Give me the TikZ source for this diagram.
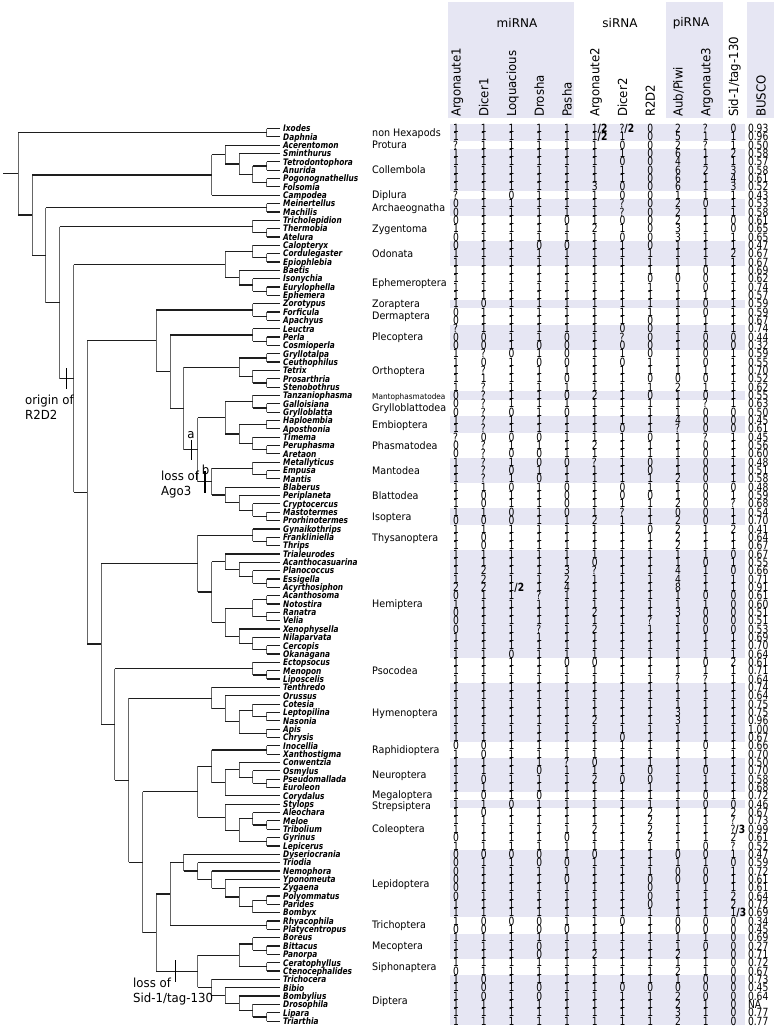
\documentclass[tikz,border=0pt]{standalone}
\usepackage{fontspec}
\usepackage{etoolbox}
\usetikzlibrary{calc}
\newfontfamily\dv{DejaVu Sans}
\newfontfamily\dvc[FakeStretch=0.81]{DejaVu Sans}
\newfontfamily\dvt[FakeStretch=0.82]{DejaVu Sans}
\newfontfamily\dvo[FakeStretch=0.93]{DejaVu Sans}
\newfontfamily\dvh[FakeStretch=0.94]{DejaVu Sans}
\definecolor{band}{RGB}{230,230,243}
\definecolor{tr}{RGB}{30,30,30}
\newcommand\fr[2]{#1\textbf{/#2}}
\newcommand\cl[4]{%
  \path let \p1=(#3), \p2=(#4) in ({280.5pt-13.8pt*#2},{0.5*(\y1+\y2)}) coordinate (#1);
  \draw[vt] (#3 -| #1) -- (#4 -| #1);
  \draw[hz] (#3 -| #1) -- (#3);
  \draw[hz] (#4 -| #1) -- (#4);
}
\newcommand\colbox[1]{\vtop{\baselineskip=8.342pt\lineskiplimit=-100pt\lineskip=0pt #1}}
\begin{document}
\begin{tikzpicture}[x=1pt,y=-1pt,
  hz/.style={draw=tr,line width=1.2pt},
  vt/.style={draw=black!60,line width=1pt},
  tick/.style={draw=black,line width=1.2pt},
  val/.style={font=\dvc\fontsize{11.3}{12}\selectfont,anchor=base west,inner sep=0pt,outer sep=0pt},
  taxon/.style={font=\dvt\bfseries\itshape\fontsize{9}{10}\selectfont,anchor=base west,inner sep=0pt},
  order/.style={font=\dvo\fontsize{10.3}{11}\selectfont,anchor=base west,inner sep=0pt},
  head/.style={font=\dvh\fontsize{12.5}{13}\selectfont,anchor=base west,inner sep=0pt,rotate=90},
  grp/.style={font=\dv\fontsize{12}{13}\selectfont,inner sep=0pt},
  ann/.style={font=\dvh\fontsize{12.5}{13}\selectfont,anchor=base west,inner sep=0pt}]
\useasboundingbox (0,0) rectangle (780,1028);
\fill[white] (0,0) rectangle (780,1028);
% header boxes
\fill[band] (448,2) rectangle (574,118);
\fill[band] (666,2) rectangle (723,118);
\fill[band] (747,2) rectangle (774,118);
\node[grp] (g-mi) at (517,23) {miRNA};
\node[grp] (g-si) at (620,23) {siRNA};
\node[grp] (g-pi) at (691,23) {piRNA};
\foreach \h [count=\k from 0] in {Argonaute1,Dicer1,Loquacious,Drosha,Pasha,Argonaute2,Dicer2,R2D2,Aub/Piwi,Argonaute3,Sid-1/tag-130}{
  \node[head] (h-\k) at ({456+27.75*\k+4.5},117) {\h};
}
\node[head] (h-busco) at (765.5,117) {BUSCO};
% order bands and labels
\foreach \lab/\a/\b/\dy [count=\j] in {non Hexapods/1/2/0,Protura/3/3/0,Collembola/4/8/0,Diplura/9/9/0,Archaeognatha/10/11/0,Zygentoma/12/14/0,Odonata/15/17/0,Ephemeroptera/18/21/0,Zoraptera/22/22/0,Dermaptera/23/24/0,Plecoptera/25/27/0,Orthoptera/28/32/0,{\fontsize{7.9}{8}\selectfont Mantophasmatodea}/33/33/0,Grylloblattodea/34/35/0,Embioptera/36/37/0,Phasmatodea/38/40/0,Mantodea/41/43/0,Blattodea/44/46/0,Isoptera/47/48/0,Thysanoptera/49/51/0,Hemiptera/52/64/0,Psocodea/65/67/0,Hymenoptera/68/74/0,Raphidioptera/75/76/0,Neuroptera/77/80/0,Megaloptera/81/81/-1.6,Strepsiptera/82/82/1.6,Coleoptera/83/87/0,Lepidoptera/88/95/0,Trichoptera/96/97/0,Mecoptera/98/100/0,Siphonaptera/101/102/0,Diptera/103/108/0}{
  \pgfmathsetmacro\ya{128.5+(\a-1)*8.342}
  \pgfmathsetmacro\yb{128.5+(\b-1)*8.342}
  \ifodd\j \fill[band] (450,{\ya-4.17}) rectangle (745,{\yb+4.17}); \fi
  \node[order] (o-\j) at (372,{(\ya+\yb)/2+3.75+\dy}) {\lab};
}
% rows: tips, taxon labels, and collect column contents
\foreach \k in {0,...,10}{\csgdef{colv\k}{}}
\gdef\colbusco{}
\foreach \nm/\vals/\bu [count=\i] in {
Ixodes/{1,1,1,1,1,\fr{1}{2},\fr{?}{2},0,2,?,0}/0.93,
Daphnia/{1,1,1,1,1,\fr{1}{2},1,0,5,1,1}/0.96,
Acerentomon/{?,1,1,1,1,1,0,0,2,?,1}/0.50,
Sminthurus/{1,1,1,1,1,1,1,0,6,1,2}/0.58,
Tetrodontophora/{1,1,1,1,1,1,0,0,4,1,1}/0.57,
Anurida/{1,1,1,1,1,1,1,0,6,2,3}/0.58,
Pogonognathellus/{1,1,1,1,1,1,1,0,6,1,4}/0.61,
Folsomia/{1,1,1,1,1,3,0,0,6,1,3}/0.52,
Campodea/{?,1,0,1,1,1,0,0,1,1,1}/0.43,
Meinertellus/{0,1,1,1,1,1,?,0,2,0,1}/0.53,
Machilis/{0,1,1,1,1,1,?,0,2,1,1}/0.58,
Tricholepidion/{0,1,1,1,0,1,0,0,2,1,0}/0.61,
Thermobia/{1,1,1,1,1,2,1,0,3,1,0}/0.65,
Atelura/{0,1,1,1,1,1,0,0,3,1,1}/0.65,
Calopteryx/{0,1,1,0,0,1,1,0,1,1,1}/0.47,
Cordulegaster/{1,1,1,1,1,1,1,1,1,1,2}/0.67,
Epiophlebia/{1,1,1,1,1,1,1,1,1,1,1}/0.67,
Baetis/{1,1,1,1,1,1,1,1,1,0,1}/0.69,
Isonychia/{1,1,1,1,1,1,1,0,0,0,1}/0.62,
Eurylophella/{1,1,1,1,1,1,1,1,1,0,1}/0.74,
Ephemera/{1,1,1,1,1,1,1,1,1,1,1}/0.57,
Zorotypus/{1,0,1,1,1,1,1,1,1,0,1}/0.59,
Forficula/{0,1,1,1,1,1,1,1,1,0,1}/0.59,
Apachyus/{0,1,1,1,1,1,1,0,1,1,1}/0.67,
Leuctra/{?,1,1,1,1,1,0,0,1,1,1}/0.74,
Perla/{0,0,1,1,0,1,?,0,1,0,0}/0.44,
Cosmioperla/{0,0,1,0,0,1,0,0,1,0,0}/0.32,
Gryllotalpa/{1,?,0,1,0,1,1,0,1,0,1}/0.59,
Ceuthophilus/{1,0,1,0,0,1,0,1,1,0,1}/0.55,
Tetrix/{1,?,1,1,1,1,1,1,1,1,1}/0.70,
Prosarthria/{1,1,1,1,0,1,1,0,0,0,1}/0.52,
Stenobothrus/{1,?,1,1,1,1,1,1,2,1,1}/0.62,
Tanzaniophasma/{0,?,1,1,0,2,1,0,1,0,1}/0.55,
Galloisiana/{0,?,1,1,1,1,1,1,1,?,1}/0.63,
Grylloblatta/{0,?,0,1,0,1,1,1,1,0,0}/0.50,
Haploembia/{1,?,1,1,1,1,1,1,4,0,0}/0.45,
Aposthonia/{1,?,1,1,1,1,0,1,?,0,0}/0.61,
Timema/{?,0,0,0,1,1,1,0,1,?,1}/0.45,
Peruphasma/{0,?,1,1,1,2,1,1,1,0,1}/0.56,
Aretaon/{0,?,0,0,1,1,1,1,1,0,1}/0.60,
Metallyticus/{1,?,1,0,0,?,1,0,1,0,1}/0.48,
Empusa/{1,?,0,1,1,1,1,0,1,0,1}/0.51,
Mantis/{1,?,1,0,1,1,1,1,2,0,1}/0.58,
Blaberus/{1,1,0,1,0,1,0,1,1,0,0}/0.48,
Periplaneta/{1,0,1,1,0,1,0,0,1,0,1}/0.59,
Cryptocercus/{1,0,1,1,0,1,1,1,2,0,?}/0.68,
Mastotermes/{1,1,0,1,0,1,?,1,0,0,1}/0.54,
Prorhinotermes/{0,0,0,1,1,2,1,1,2,0,1}/0.70,
Gynaikothrips/{1,1,1,1,1,1,1,0,2,1,2}/0.41,
Frankliniella/{1,0,1,1,1,1,1,1,2,1,1}/0.64,
Thrips/{1,0,1,1,1,1,1,1,2,1,1}/0.67,
Trialeurodes/{1,1,1,1,1,1,1,1,1,1,0}/0.67,
Acanthocasuarina/{1,1,1,1,1,0,1,1,1,0,1}/0.55,
Planococcus/{1,2,1,1,3,?,1,1,4,1,0}/0.66,
Essigella/{1,2,1,1,2,1,1,1,4,1,1}/0.71,
Acyrthosiphon/{2,2,\fr{1}{2},1,4,1,1,1,8,1,1}/0.91,
Acanthosoma/{0,1,1,?,1,1,1,1,1,0,0}/0.61,
Notostira/{1,1,1,1,1,1,1,1,1,1,0}/0.60,
Ranatra/{0,1,1,1,1,2,1,1,3,0,0}/0.51,
Velia/{0,1,1,1,1,1,1,?,1,0,0}/0.51,
Xenophysella/{0,1,1,?,1,2,1,1,1,0,0}/0.53,
Nilaparvata/{1,1,1,1,1,1,1,1,1,1,1}/0.69,
Cercopis/{1,1,1,1,1,1,1,1,1,1,1}/0.70,
Okanagana/{1,1,0,1,1,1,1,1,1,1,1}/0.64,
Ectopsocus/{1,1,1,1,0,0,1,1,1,0,2}/0.61,
Menopon/{1,1,1,1,1,1,1,1,1,1,1}/0.71,
Liposcelis/{1,1,1,1,1,1,1,1,?,?,1}/0.64,
Tenthredo/{1,1,1,1,1,1,1,1,1,1,1}/0.74,
Orussus/{1,1,1,1,1,1,1,1,1,1,1}/0.64,
Cotesia/{1,1,1,1,1,1,1,1,1,1,1}/0.75,
Leptopilina/{1,1,1,1,1,1,1,1,3,1,1}/0.75,
Nasonia/{1,1,1,1,1,2,1,1,3,1,1}/0.96,
Apis/{1,1,1,1,1,1,1,1,1,1,1}/1.00,
Chrysis/{1,1,1,1,1,1,0,1,1,1,1}/0.67,
Inocellia/{0,0,1,1,1,1,1,1,1,0,1}/0.66,
Xanthostigma/{1,0,1,1,1,1,1,1,1,1,1}/0.70,
Conwentzia/{1,1,1,1,?,0,1,1,1,1,1}/0.50,
Osmylus/{1,1,1,0,1,1,1,0,1,0,1}/0.70,
Pseudomallada/{1,0,1,1,1,2,0,0,1,1,1}/0.58,
Euroleon/{1,1,1,1,1,1,1,1,1,1,1}/0.68,
Corydalus/{1,0,1,0,1,1,1,1,1,0,1}/0.72,
Stylops/{1,1,0,1,1,1,1,1,1,0,0}/0.46,
Aleochara/{1,0,1,1,1,1,1,2,1,1,2}/0.67,
Meloe/{1,1,1,1,1,1,1,2,1,1,?}/0.73,
Tribolium/{1,1,1,1,1,2,1,2,1,1,\fr{?}{3}}/0.99,
Gyrinus/{0,1,1,1,0,1,1,2,1,1,2}/0.61,
Lepicerus/{1,1,1,1,1,1,1,1,1,0,?}/0.52,
Dyseriocrania/{0,0,0,0,1,0,1,1,0,0,1}/0.47,
Triodia/{0,1,1,0,0,1,1,1,1,1,0}/0.59,
Nemophora/{0,1,1,1,1,1,1,1,0,0,1}/0.72,
Yponomeuta/{0,1,1,1,0,1,1,0,0,0,1}/0.61,
Zygaena/{0,1,1,1,1,1,1,0,1,1,1}/0.61,
Polyommatus/{0,1,1,1,1,1,1,0,1,1,2}/0.64,
Parides/{1,1,1,1,1,1,1,0,1,1,2}/0.72,
Bombyx/{1,1,1,1,1,1,1,1,1,1,\fr{1}{3}}/0.69,
Rhyacophila/{1,0,0,0,1,1,0,1,0,0,0}/0.34,
Platycentropus/{0,0,1,0,0,1,1,1,0,0,0}/0.45,
Boreus/{1,1,1,1,1,1,1,1,1,1,0}/0.69,
Bittacus/{1,1,1,0,1,1,1,1,1,0,0}/0.27,
Panorpa/{1,1,1,0,1,2,1,1,2,1,0}/0.71,
Ceratophyllus/{1,1,1,1,1,1,1,1,1,1,0}/0.72,
Ctenocephalides/{0,1,1,1,1,1,1,1,2,1,0}/0.67,
Trichocera/{1,0,1,1,1,1,1,1,1,0,0}/0.73,
Bibio/{1,0,1,0,1,1,0,0,0,0,0}/0.45,
Bombylius/{1,0,1,0,1,1,1,1,2,0,0}/0.64,
Drosophila/{1,1,1,1,1,1,1,1,2,1,0}/NA,
Lipara/{1,1,1,1,1,1,1,1,3,1,0}/0.77,
Triarthia/{1,1,1,1,1,1,1,1,2,1,0}/0.77}{
  \pgfmathsetmacro\yy{128.5+(\i-1)*8.342}
  \coordinate (\nm) at (280,\yy);
  \node[taxon] (l-\nm) at (283,{\yy+3.3}) {\nm};
  \foreach \v [count=\k from 0] in \vals {
    \csxappto{colv\k}{\noexpand\hbox{\expandonce\v}}
  }
  \xappto\colbusco{\noexpand\hbox{\expandonce\bu}}
}
% table columns, each one text block
\foreach \k in {0,...,10}{
  \node[val] (col-\k) at ({453.1+27.75*\k},132.6) {\colbox{\csname colv\k\endcsname}};
}
\node[val] (col-busco) at (748,132.6) {\colbox{\colbusco}};
% tree
\cl{out}{1}{Ixodes}{Daphnia}
\cl{col1}{1}{Tetrodontophora}{Anurida}
\cl{col2}{1}{Pogonognathellus}{Folsomia}
\cl{col3}{2}{col1}{col2}
\cl{coll}{3}{Sminthurus}{col3}
\cl{ellip}{4}{Acerentomon}{coll}
\cl{ento}{5}{ellip}{Campodea}
\cl{arch}{1}{Meinertellus}{Machilis}
\cl{zyg1}{1}{Thermobia}{Atelura}
\cl{zyg}{2}{Tricholepidion}{zyg1}
\cl{odo1}{1}{Cordulegaster}{Epiophlebia}
\cl{odo}{2}{Calopteryx}{odo1}
\cl{eph3}{1}{Eurylophella}{Ephemera}
\cl{eph2}{2}{Isonychia}{eph3}
\cl{eph}{3}{Baetis}{eph2}
\cl{palaeo}{4}{odo}{eph}
\cl{derm}{1}{Forficula}{Apachyus}
\cl{zorderm}{2}{Zorotypus}{derm}
\cl{plec1}{1}{Perla}{Cosmioperla}
\cl{plec}{2}{Leuctra}{plec1}
\cl{orth1}{1}{Gryllotalpa}{Ceuthophilus}
\cl{orth2}{1}{Prosarthria}{Stenobothrus}
\cl{orth3}{2}{Tetrix}{orth2}
\cl{orth}{3}{orth1}{orth3}
\cl{gryl}{1}{Galloisiana}{Grylloblatta}
\cl{xeno}{2}{Tanzaniophasma}{gryl}
\cl{embi}{1}{Haploembia}{Aposthonia}
\cl{phas1}{1}{Peruphasma}{Aretaon}
\cl{phas}{2}{Timema}{phas1}
\cl{euki}{3}{embi}{phas}
\cl{xe}{4}{xeno}{euki}
\cl{mant1}{1}{Empusa}{Mantis}
\cl{mant}{2}{Metallyticus}{mant1}
\cl{iso}{1}{Mastotermes}{Prorhinotermes}
\cl{bla3}{2}{Cryptocercus}{iso}
\cl{bla2}{3}{Periplaneta}{bla3}
\cl{bla}{4}{Blaberus}{bla2}
\cl{dicty}{5}{mant}{bla}
\cl{pp6}{6}{xe}{dicty}
\cl{pp7}{7}{orth}{pp6}
\cl{pp8}{8}{plec}{pp7}
\cl{polyneo}{9}{zorderm}{pp8}
\cl{thy1}{1}{Frankliniella}{Thrips}
\cl{thy}{2}{Gynaikothrips}{thy1}
\cl{st1}{1}{Essigella}{Acyrthosiphon}
\cl{st2}{2}{Planococcus}{st1}
\cl{st3}{3}{Acanthocasuarina}{st2}
\cl{stern}{4}{Trialeurodes}{st3}
\cl{het1}{1}{Acanthosoma}{Notostira}
\cl{het2}{1}{Ranatra}{Velia}
\cl{het}{2}{het1}{het2}
\cl{au1}{1}{Cercopis}{Okanagana}
\cl{au2}{2}{Nilaparvata}{au1}
\cl{au}{3}{Xenophysella}{au2}
\cl{hetau}{4}{het}{au}
\cl{hemi}{5}{stern}{hetau}
\cl{condy}{6}{thy}{hemi}
\cl{pso1}{1}{Menopon}{Liposcelis}
\cl{pso}{2}{Ectopsocus}{pso1}
\cl{hy1}{1}{Leptopilina}{Nasonia}
\cl{hy2}{2}{Cotesia}{hy1}
\cl{hy3}{1}{Apis}{Chrysis}
\cl{hy4}{3}{hy2}{hy3}
\cl{hy5}{4}{Orussus}{hy4}
\cl{hym}{5}{Tenthredo}{hy5}
\cl{raph}{1}{Inocellia}{Xanthostigma}
\cl{ne1}{1}{Pseudomallada}{Euroleon}
\cl{ne2}{2}{Osmylus}{ne1}
\cl{neur}{3}{Conwentzia}{ne2}
\cl{nm}{4}{neur}{Corydalus}
\cl{neuropt}{5}{raph}{nm}
\cl{co1}{1}{Meloe}{Tribolium}
\cl{co2}{2}{Aleochara}{co1}
\cl{co3}{1}{Gyrinus}{Lepicerus}
\cl{cole}{3}{co2}{co3}
\cl{coleopt}{4}{Stylops}{cole}
\cl{nc}{6}{neuropt}{coleopt}
\cl{le1}{1}{Polyommatus}{Parides}
\cl{le2}{2}{le1}{Bombyx}
\cl{le3}{3}{Zygaena}{le2}
\cl{le4}{4}{Yponomeuta}{le3}
\cl{le5}{5}{Nemophora}{le4}
\cl{le6}{6}{Triodia}{le5}
\cl{lepi}{7}{Dyseriocrania}{le6}
\cl{tric}{1}{Rhyacophila}{Platycentropus}
\cl{amph}{8}{lepi}{tric}
\cl{me1}{1}{Bittacus}{Panorpa}
\cl{meco}{2}{Boreus}{me1}
\cl{siph}{1}{Ceratophyllus}{Ctenocephalides}
\cl{ms}{3}{meco}{siph}
\cl{di1}{1}{Lipara}{Triarthia}
\cl{di2}{2}{Drosophila}{di1}
\cl{di3}{3}{Bombylius}{di2}
\cl{di4}{4}{Bibio}{di3}
\cl{dipt}{5}{Trichocera}{di4}
\cl{antl}{6}{ms}{dipt}
\cl{mecopt}{9}{amph}{antl}
\cl{hh10}{10}{nc}{mecopt}
\cl{holo}{11}{hym}{hh10}
\cl{hh12}{12}{pso}{holo}
\cl{hh13}{13}{condy}{hh12}
\cl{neo}{14}{polyneo}{hh13}
\cl{ptery}{15}{palaeo}{neo}
\cl{dicon}{16}{zyg}{ptery}
\cl{insecta}{17}{arch}{dicon}
\cl{hexa}{18}{ento}{insecta}
\cl{root}{19}{out}{hexa}
\draw[hz] (root) -- (root -| 3,0);
% events
\draw[tick] ($(ptery)+(-7,-10.5)$) -- ($(ptery)+(-7,10.5)$);
\node[ann] (ev1) at (25,404) {origin of};
\node[ann] (ev1b) at (25,419.5) {R2D2};
\draw[tick] ($(pp6)+(-6.5,-10)$) -- ($(pp6)+(-6.5,10)$);
\node[ann,anchor=base] (eva) at (191,438) {a};
\draw[tick] ($(dicty)+(-6.5,-11)$) -- ($(dicty)+(-6.5,11)$);
\node[ann,anchor=base] (evb) at (205.5,474) {b};
\node[ann] (ev2) at (161,480) {loss of};
\node[ann] (ev2b) at (161,495.5) {Ago3};
\draw[tick] ($(antl)+(-22,-11)$) -- ($(antl)+(-22,11)$);
\node[ann] (ev3) at (133,987) {loss of};
\node[ann] (ev3b) at (133,1002.5) {Sid-1/tag-130};
\end{tikzpicture}
\end{document}
